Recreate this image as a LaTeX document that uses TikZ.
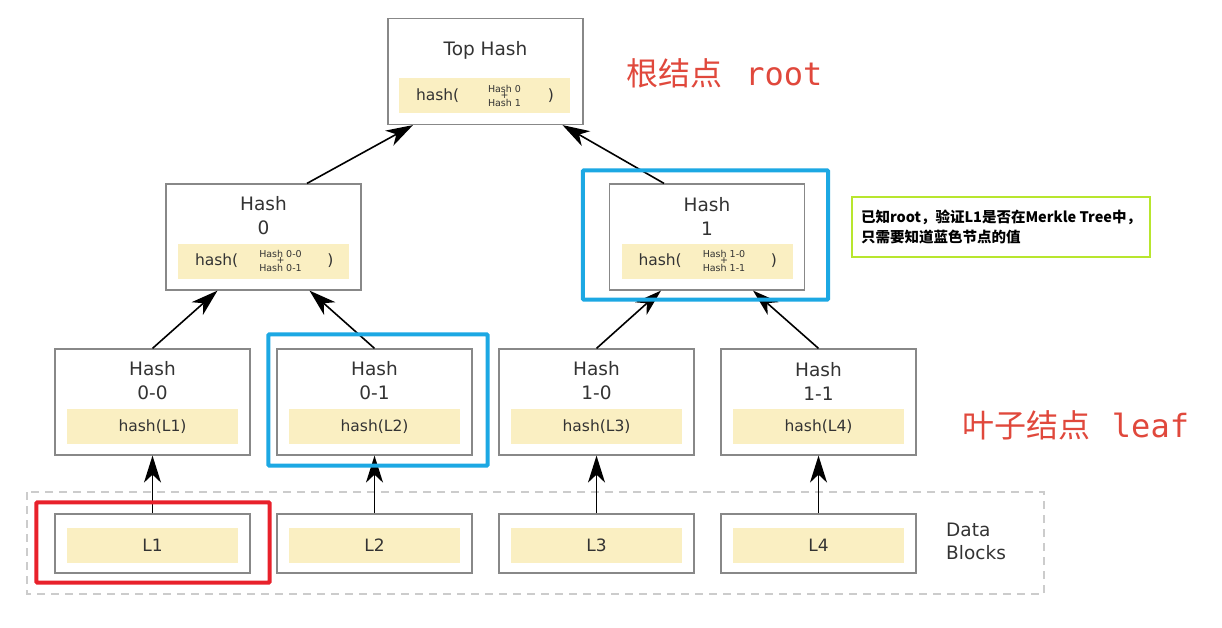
\documentclass[tikz,border=0pt]{standalone}
\usepackage{fontspec}
\setmainfont{DejaVu Sans}
\setmonofont{DejaVu Sans Mono}
\newfontfamily\cjk{Noto Sans CJK SC}
\usetikzlibrary{arrows.meta,calc}
\definecolor{strip}{RGB}{250,239,194}
\definecolor{txt}{RGB}{51,51,51}
\definecolor{boxline}{RGB}{136,136,136}
\definecolor{hlblue}{RGB}{28,168,227}
\definecolor{hlred}{RGB}{232,33,43}
\definecolor{lblred}{RGB}{224,72,60}
\definecolor{notegreen}{RGB}{184,230,46}
\begin{document}
\begin{tikzpicture}[x=1pt,y=-1pt]
        \useasboundingbox (0,0) rectangle (1222,628);
        \begin{scope}
            \tikzset{hnode/.style = {
                draw=boxline,
                line width=1.2pt,
                fill=white,
                minimum width=195pt,
                minimum height=106pt,
                inner sep=0pt } }
            \tikzset{dnode/.style = {
                hnode,
                minimum height=59pt } }
            \tikzset{hstrip/.style = {
                fill=strip,
                text=txt,
                minimum width=171pt,
                minimum height=35pt,
                inner sep=0pt,
                font=\fontsize{15.5}{18}\selectfont } }
            \tikzset{htitle/.style = {
                text=txt,
                align=center,
                inner sep=0pt,
                font=\fontsize{18.5}{24}\selectfont } }
            \tikzset{hsmall/.style = {
                text=txt,
                align=center,
                inner sep=0pt,
                font=\fontsize{9.5}{6.5}\selectfont } }
            \tikzset{hedge/.style = {
                draw=black,
                line width=1.6pt,
                -{Stealth[length=27pt,width=17pt,inset=8pt]} } }
            \tikzset{hlbox/.style = {
                line width=4pt,
                rounded corners=1pt} }
            \tikzset{redlbl/.style = {
                text=lblred,
                anchor=west,
                inner sep=0pt,
                font=\fontsize{32}{36}\selectfont } }
                % data blocks frame
                \draw[gray!40, line width=1.2pt, dash pattern=on 8pt off 6pt]
                    (27,492) rectangle (1044,594);
                % leaves and data blocks
                \foreach \x/\l/\k in {0/0-0/1,1/0-1/2,2/1-0/3,3/1-1/4}{
                    \node[hnode] (h\x) at (152.5+\x*222,402) {};
                    \node[htitle] (h\x t) at (152.5+\x*222,381) {Hash\\\l};
                    \node[hstrip] (h\x s) at (152.5+\x*222,426.5) {hash(L\k)};
                    \node[dnode] (d\x) at (152.5+\x*222,543.5) {};
                    \node[hstrip, font=\fontsize{17}{20}\selectfont] (d\x s) at (152.5+\x*222,545.5) {L\k};
                }
                % middle level
                \foreach \x/\a in {0/263.5,1/707}{
                    \node[hnode] (m\x) at (\a,237) {};
                    \node[htitle] (m\x t) at (\a,216) {Hash\\\x};
                    \node[hstrip] (m\x s) at (\a,261) {};
                    \node[text=txt, anchor=west, inner sep=0pt, font=\fontsize{15.5}{18}\selectfont] (m\x l) at ([xshift=17pt]m\x s.west) {hash(};
                    \node[text=txt, inner sep=0pt, font=\fontsize{15.5}{18}\selectfont] (m\x r) at ([xshift=67pt]m\x s.center) {)};
                    \node[hsmall] (m\x c) at ([xshift=17pt]m\x s.center) {Hash \x-0\\+\\Hash \x-1};
                }
                % root
                \node[hnode] (top) at (485.5,71.5) {};
                \node[htitle] (topt) at (485.5,50) {Top Hash};
                \node[hstrip] (tops) at (484.5,96) {};
                \node[text=txt, anchor=west, inner sep=0pt, font=\fontsize{15.5}{18}\selectfont] (topl) at ([xshift=17pt]tops.west) {hash(};
                \node[text=txt, inner sep=0pt, font=\fontsize{15.5}{18}\selectfont] (topr) at ([xshift=66.5pt]tops.center) {)};
                \node[hsmall] (topc) at ([xshift=20pt]tops.center) {Hash 0\\+\\Hash 1};
                % edges
                \foreach \x in {0,1,2,3}{
                    \draw[hedge] (d\x.north) -- (h\x.south);
                }
                \draw[hedge] (h0.north) -- ([xshift=-46pt]m0.south);
                \draw[hedge] (h1.north) -- ([xshift=46pt]m0.south);
                \draw[hedge] (h2.north) -- ([xshift=-46pt]m1.south);
                \draw[hedge] (h3.north) -- ([xshift=46pt]m1.south);
                \draw[hedge] ([xshift=43.5pt]m0.north) -- ([xshift=-72.5pt]top.south);
                \draw[hedge] ([xshift=-43pt]m1.north) -- ([xshift=77pt]top.south);
                % highlights
                \draw[hlbox, hlblue] ([shift={(-8pt,14pt)}]h1.north west) rectangle ([shift={(15pt,-10pt)}]h1.south east);
                \draw[hlbox, hlblue] ([shift={(-26pt,13pt)}]m1.north west) rectangle ([shift={(23pt,-9pt)}]m1.south east);
                \draw[hlbox, hlred] ([shift={(-18pt,11pt)}]d0.north west) rectangle ([shift={(19pt,-9pt)}]d0.south east);
                % labels
                \node[text=txt, anchor=west, align=left, inner sep=0pt, font=\fontsize{18.5}{23}\selectfont] (blk) at (946,541.5) {Data\\Blocks};
                \node[redlbl] (rootlbl) at (626,73) {{\cjk 根结点}\hspace{0.72em}{\ttfamily root}};
                \node[redlbl] (leaflbl) at (962,425) {{\cjk 叶子结点}\hspace{0.68em}{\ttfamily leaf}};
                \node[draw=notegreen, line width=2.5pt, text=black, align=left, minimum width=298pt, minimum height=60pt, inner xsep=4pt, font=\cjk\bfseries\fontsize{14.5}{20.5}\selectfont] (note) at (1001,227) {已知root，验证L1是否在Merkle Tree中，\\只需要知道蓝色节点的值};
        \end{scope}
    \end{tikzpicture}
\end{document}
